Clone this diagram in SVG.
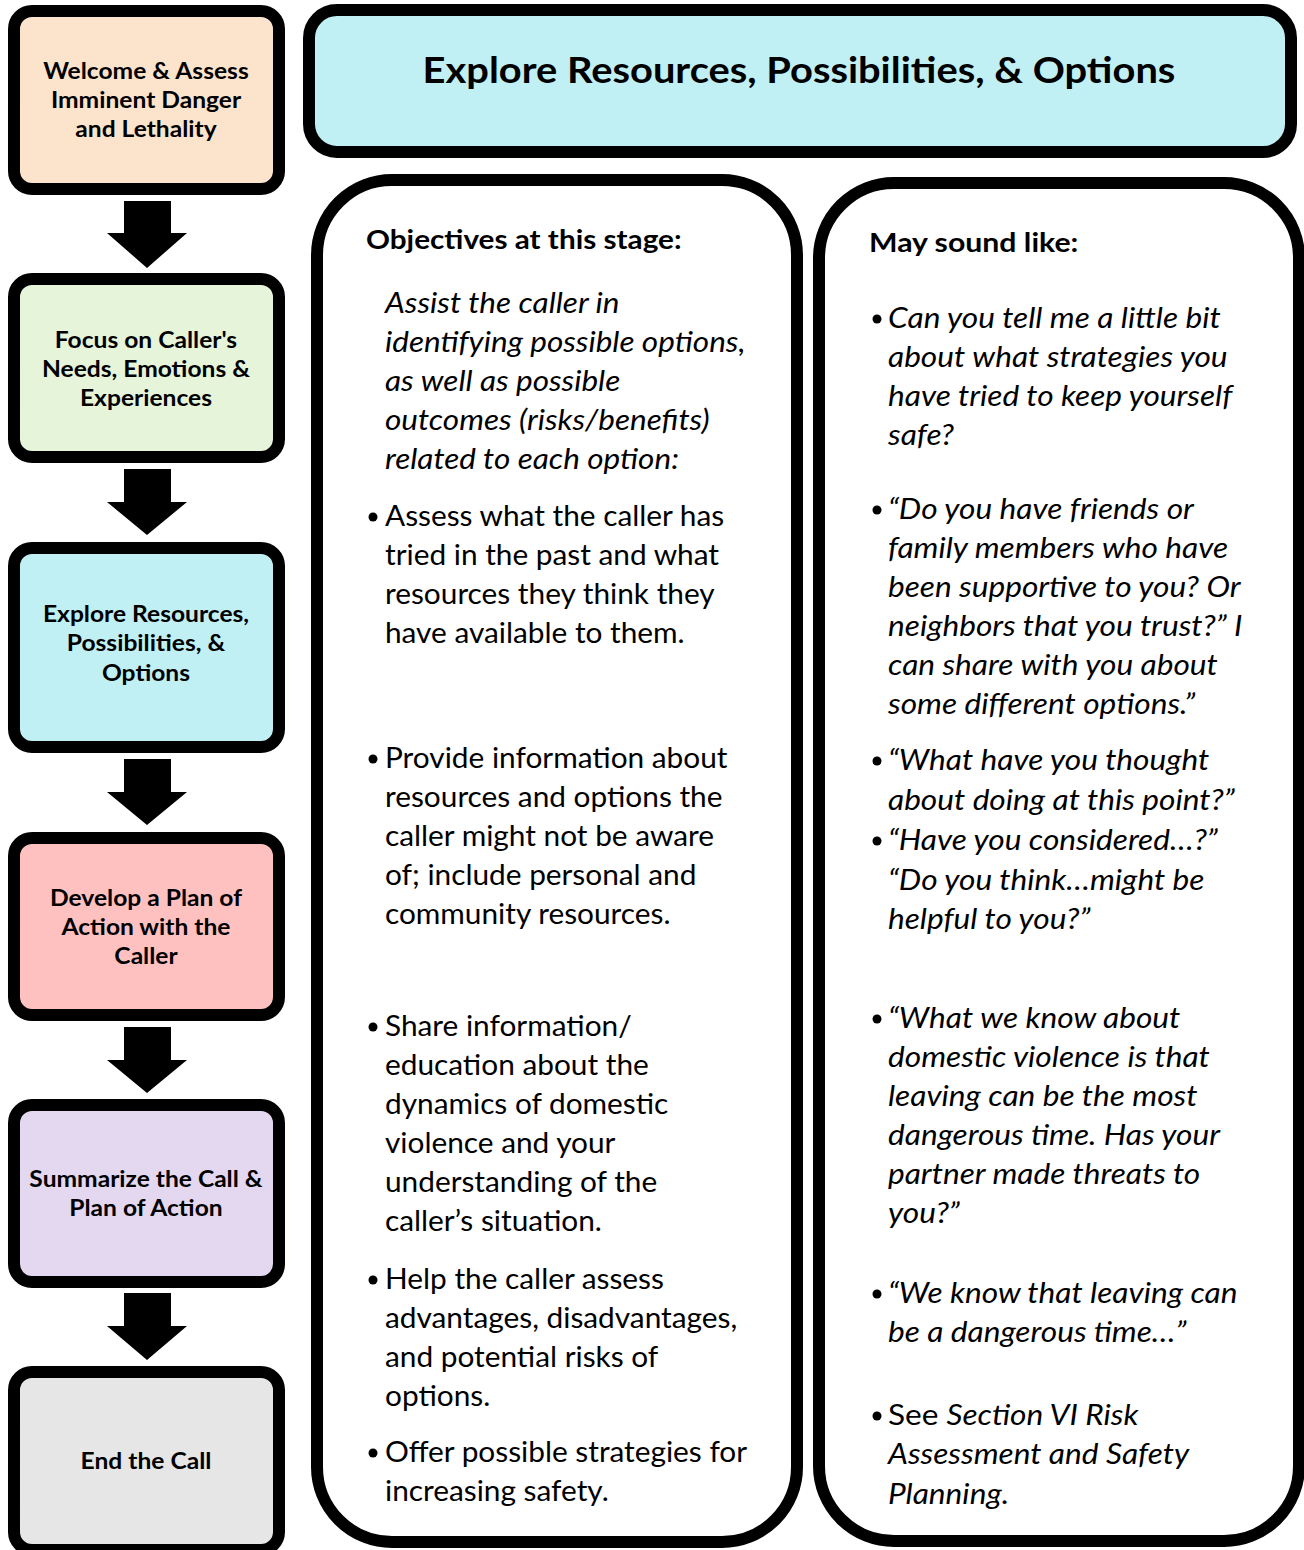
<svg xmlns="http://www.w3.org/2000/svg" width="1304" height="1550" viewBox="0 0 1304 1550">
<style>
.box{stroke:#000;stroke-width:12}
.panel{fill:#fff;stroke:#000;stroke-width:12}
.lbl{font-family:Lato,"Liberation Sans",sans-serif;font-weight:bold;font-size:23px;fill:#000;text-anchor:middle}
.title{font-family:Lato,"Liberation Sans",sans-serif;font-weight:bold;font-size:37px;fill:#000;text-anchor:middle}
.head{font-family:Lato,"Liberation Sans",sans-serif;font-weight:bold;font-size:27px;fill:#000}
.body{font-family:Lato,"Liberation Sans",sans-serif;font-size:28px;fill:#000}
.it{font-style:italic}
.arrow{fill:#000}
</style>
<g id="connectors">
<polygon class="arrow" points="124,201 171,201 171,233 187,233 147,268 107,233 124,233"/>
<polygon class="arrow" points="124,469 171,469 171,502 187,502 147,535 107,502 124,502"/>
<polygon class="arrow" points="124,759 171,759 171,792 187,792 147,825 107,792 124,792"/>
<polygon class="arrow" points="124,1027 171,1027 171,1060 187,1060 147,1093 107,1060 124,1060"/>
<polygon class="arrow" points="124,1293 171,1293 171,1326 187,1326 147,1360 107,1326 124,1326"/>
</g>
<g id="n1">
<rect class="box" x="14" y="11" width="265" height="178" rx="18" fill="#FCE4CC"/>
<g transform="matrix(1.07,0,0,1,-10.22,1)">
<text class="lbl" x="146" y="78">Welcome &amp; Assess</text>
<text class="lbl" x="146" y="107">Imminent Danger</text>
<text class="lbl" x="146" y="136">and Lethality</text>
</g>
</g>
<g id="n2">
<rect class="box" x="14" y="279" width="265" height="178" rx="18" fill="#E6F4DA"/>
<g transform="matrix(1.07,0,0,1,-10.22,1)">
<text class="lbl" x="146" y="347">Focus on Caller's</text>
<text class="lbl" x="146" y="376">Needs, Emotions &amp;</text>
<text class="lbl" x="146" y="405">Experiences</text>
</g>
</g>
<g id="n3">
<rect class="box" x="14" y="548" width="265" height="199" rx="18" fill="#C0EFF4"/>
<g transform="matrix(1.07,0,0,1,-10.22,1)">
<text class="lbl" x="146" y="621">Explore Resources,</text>
<text class="lbl" x="146" y="650">Possibilities, &amp;</text>
<text class="lbl" x="146" y="680">Options</text>
</g>
</g>
<g id="n4">
<rect class="box" x="14" y="838" width="265" height="177" rx="18" fill="#FFC0C0"/>
<g transform="matrix(1.07,0,0,1,-10.22,1)">
<text class="lbl" x="146" y="905">Develop a Plan of</text>
<text class="lbl" x="146" y="934">Action with the</text>
<text class="lbl" x="146" y="963">Caller</text>
</g>
</g>
<g id="n5">
<rect class="box" x="14" y="1105" width="265" height="177" rx="18" fill="#E4D8F0"/>
<g transform="matrix(1.07,0,0,1,-10.22,1)">
<text class="lbl" x="146" y="1186">Summarize the Call &amp;</text>
<text class="lbl" x="146" y="1215">Plan of Action</text>
</g>
</g>
<g id="n6">
<rect class="box" x="14" y="1372" width="265" height="178" rx="18" fill="#E6E6E6"/>
<g transform="matrix(1.07,0,0,1,-10.22,1)">
<text class="lbl" x="146" y="1468">End the Call</text>
</g>
</g>
<g id="header">
<rect class="box" x="309" y="10" width="982" height="142" rx="28" fill="#C0F0F4"/>
<text class="title" x="799" y="83" transform="matrix(1.077,0,0,1,-61.52,0)">Explore Resources, Possibilities, &amp; Options</text>
</g>
<g id="objectives">
<rect class="panel" x="317" y="180" width="480" height="1362" rx="75"/>
<text class="head" x="366" y="249" transform="matrix(1.1,0,0,1,-36.6,0)">Objectives at this stage:</text>
<g class="body it" transform="matrix(1.125,0,0,1,-48.13,2)">
<text x="385" y="311">Assist the caller in</text>
<text x="385" y="350">identifying possible options,</text>
<text x="385" y="389">as well as possible</text>
<text x="385" y="428">outcomes (risks/benefits)</text>
<text x="385" y="467">related to each option:</text>
</g>
<g>
<circle cx="373" cy="517" r="4.5"/>
<circle cx="373" cy="759" r="4.5"/>
<circle cx="373" cy="1027" r="4.5"/>
<circle cx="373" cy="1280" r="4.5"/>
<circle cx="373" cy="1453" r="4.5"/>
</g>
<g class="body" transform="matrix(1.065,0,0,1,-25.03,2)">
<text x="385" y="524">Assess what the caller has</text>
<text x="385" y="563">tried in the past and what</text>
<text x="385" y="602">resources they think they</text>
<text x="385" y="641">have available to them.</text>
<text x="385" y="766">Provide information about</text>
<text x="385" y="805">resources and options the</text>
<text x="385" y="844">caller might not be aware</text>
<text x="385" y="883">of; include personal and</text>
<text x="385" y="922">community resources.</text>
<text x="385" y="1034">Share information/</text>
<text x="385" y="1073">education about the</text>
<text x="385" y="1112">dynamics of domestic</text>
<text x="385" y="1151">violence and your</text>
<text x="385" y="1190">understanding of the</text>
<text x="385" y="1229">caller’s situation.</text>
<text x="385" y="1287">Help the caller assess</text>
<text x="385" y="1326">advantages, disadvantages,</text>
<text x="385" y="1365">and potential risks of</text>
<text x="385" y="1404">options.</text>
<text x="385" y="1460">Offer possible strategies for</text>
<text x="385" y="1499">increasing safety.</text>
</g>
</g>
<g id="examples">
<rect class="panel" x="819" y="183" width="480" height="1358" rx="75"/>
<text class="head" x="869" y="252" transform="matrix(1.12,0,0,1,-104.28,0)">May sound like:</text>
<g>
<circle cx="877" cy="319" r="4.5"/>
<circle cx="877" cy="510" r="4.5"/>
<circle cx="877" cy="761" r="4.5"/>
<circle cx="877" cy="841" r="4.5"/>
<circle cx="877" cy="1019" r="4.5"/>
<circle cx="877" cy="1294" r="4.5"/>
<circle cx="877" cy="1416" r="4.5"/>
</g>
<g class="body it" transform="matrix(1.13,0,0,1,-115.44,2)">
<text x="888" y="326">Can you tell me a little bit</text>
<text x="888" y="365">about what strategies you</text>
<text x="888" y="404">have tried to keep yourself</text>
<text x="888" y="443">safe?</text>
<text x="888" y="517">“Do you have friends or</text>
<text x="888" y="556">family members who have</text>
<text x="888" y="595">been supportive to you? Or</text>
<text x="888" y="634">neighbors that you trust?” I</text>
<text x="888" y="673">can share with you about</text>
<text x="888" y="712">some different options.”</text>
<text x="888" y="768">“What have you thought</text>
<text x="888" y="808">about doing at this point?”</text>
<text x="888" y="848">“Have you considered…?”</text>
<text x="888" y="888">“Do you think…might be</text>
<text x="888" y="927">helpful to you?”</text>
<text x="888" y="1026">“What we know about</text>
<text x="888" y="1065">domestic violence is that</text>
<text x="888" y="1104">leaving can be the most</text>
<text x="888" y="1143">dangerous time. Has your</text>
<text x="888" y="1182">partner made threats to</text>
<text x="888" y="1221">you?”</text>
<text x="888" y="1301">“We know that leaving can</text>
<text x="888" y="1340">be a dangerous time…”</text>
<text x="888" y="1423"><tspan font-style="normal">See </tspan>Section VI Risk</text>
<text x="888" y="1462">Assessment and Safety</text>
<text x="888" y="1502">Planning.</text>
</g>
</g>
</svg>
